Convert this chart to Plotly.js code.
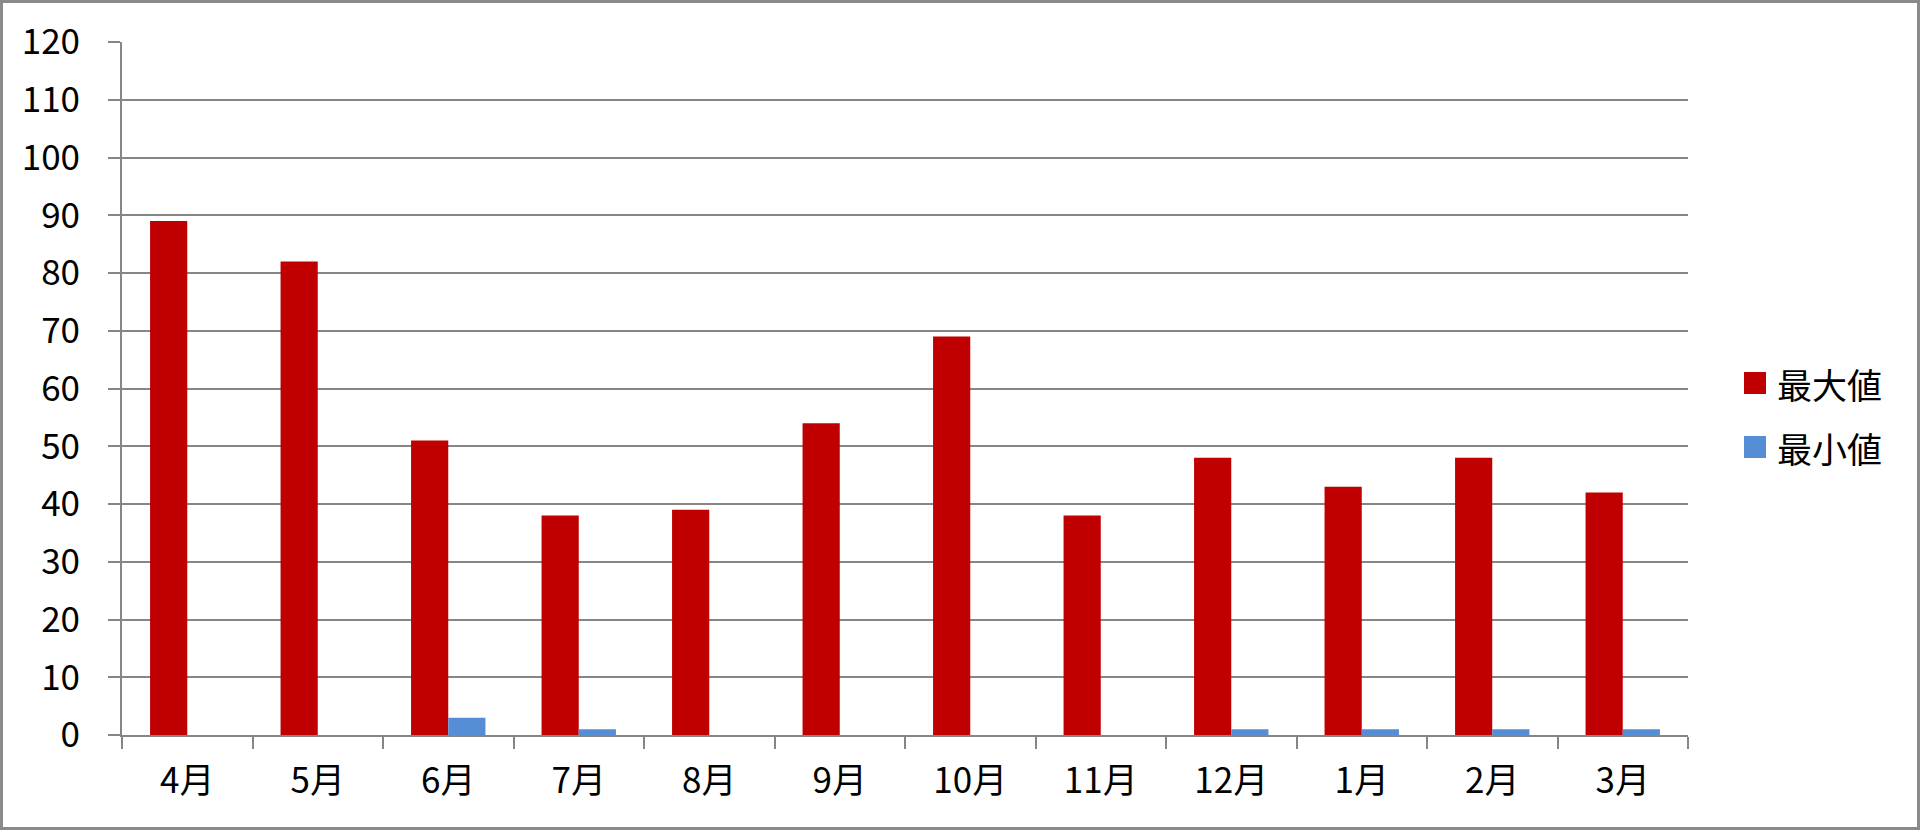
<!DOCTYPE html>
<html>
<head>
<meta charset="utf-8">
<script src="https://cdn.plot.ly/plotly-3.0.1.min.js"></script>
<style>
html,body{margin:0;padding:0;background:#fff;}
#wrap{position:relative;width:1920px;height:830px;}
#chart{position:absolute;left:0;top:0;width:1920px;height:830px;}
#frame{position:absolute;left:0;top:0;width:1920px;height:830px;box-sizing:border-box;border:3px solid #8a8a8a;pointer-events:none;}
</style>
</head>
<body>
<div id="wrap"><div id="chart"></div><div id="frame"></div></div>
<script>
var months = ["4月","5月","6月","7月","8月","9月","10月","11月","12月","1月","2月","3月"];
var seriesNames = ["最大値","最小値"];
var maxValues = [89, 82, 51, 38, 39, 54, 69, 38, 48, 43, 48, 42];
var minValues = [0, 0, 3, 1, 0, 0, 0, 0, 1, 1, 1, 1];
var seriesColors = ["#C00000", "#558ED5"];

var FONT = '"Noto Sans CJK JP", "Noto Sans", sans-serif';
var L = 122, R = 1688, T = 42, B = 735;
var W = R - L, H = B - T;
function px(x){ return (x - L) / W; }
function py(y){ return (B - y) / H; }

var traces = [
  {type:"bar", name:seriesNames[0], x:months, y:maxValues, marker:{color:seriesColors[0]}, showlegend:false},
  {type:"bar", name:seriesNames[1], x:months, y:minValues, marker:{color:seriesColors[1]}, showlegend:false}
];

var shapes = [], annotations = [];
var legendY = [383, 447];
for (var i = 0; i < seriesNames.length; i++) {
  shapes.push({type:"rect", xref:"paper", yref:"paper",
    x0:px(1744), x1:px(1766), y0:py(legendY[i]+11), y1:py(legendY[i]-11),
    fillcolor:seriesColors[i], line:{width:0}});
  annotations.push({xref:"paper", yref:"paper", x:px(1775), y:py(legendY[i]),
    xanchor:"left", yanchor:"middle", showarrow:false, text:seriesNames[i],
    font:{family:FONT, size:35, color:"#000"}});
}

var layout = {
  width:1920, height:830,
  margin:{l:L, r:1920-R, t:T, b:830-B, pad:0},
  paper_bgcolor:"#fff", plot_bgcolor:"#fff",
  barmode:"group", bargap:0.43, bargroupgap:0,
  showlegend:false,
  font:{family:FONT, size:35, color:"#000"},
  xaxis:{type:"category", showgrid:false, showline:true, linecolor:"#868686", linewidth:2,
    ticks:"outside", ticklen:12, tickwidth:2, tickcolor:"#868686", tickson:"boundaries",
    tickfont:{family:FONT, size:35, color:"#000"}, ticklabelstandoff:14, zeroline:false, fixedrange:true},
  yaxis:{range:[0,120], dtick:10, tick0:0, showgrid:true, gridcolor:"#868686", gridwidth:2,
    showline:true, linecolor:"#868686", linewidth:2, ticks:"outside", ticklen:12, tickwidth:2,
    tickcolor:"#868686", tickfont:{family:FONT, size:35, color:"#000"}, ticklabelstandoff:21,
    zeroline:false, fixedrange:true},
  shapes:shapes, annotations:annotations
};
Plotly.newPlot("chart", traces, layout, {displayModeBar:false, staticPlot:true});
</script>
</body>
</html>
